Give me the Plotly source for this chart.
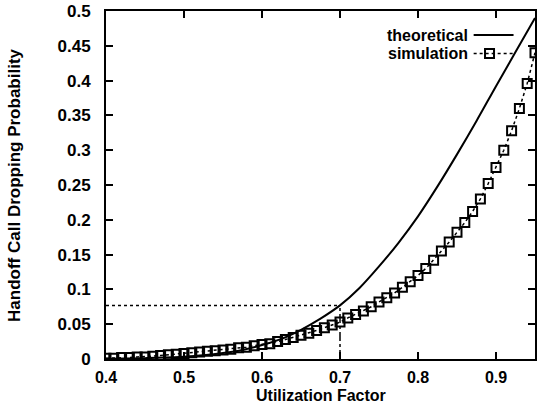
import plotly.graph_objects as go

# ---- data ----
theory_x = [0.400, 0.425, 0.450, 0.475, 0.500, 0.525, 0.550, 0.575, 0.600, 0.625,
            0.650, 0.675, 0.700, 0.725, 0.750, 0.775, 0.800, 0.825, 0.850, 0.875,
            0.900, 0.925, 0.950]
theory_y = [0.0003, 0.0006, 0.0012, 0.002, 0.0033, 0.0053, 0.0085, 0.013, 0.020, 0.029,
            0.042, 0.058, 0.077, 0.102, 0.133, 0.167, 0.205, 0.248, 0.294, 0.342,
            0.392, 0.441, 0.490]

sim_x = [round(0.40 + 0.01 * i, 2) for i in range(56)]
sim_y = [0.001, 0.001, 0.002, 0.002, 0.003, 0.003, 0.004, 0.005, 0.006, 0.007,
         0.008, 0.009, 0.010, 0.011, 0.012, 0.013, 0.014, 0.016, 0.017, 0.019,
         0.021, 0.022, 0.025, 0.028, 0.031, 0.034, 0.037, 0.041, 0.045, 0.049,
         0.053, 0.059, 0.064, 0.069, 0.075, 0.082, 0.088, 0.095, 0.103, 0.111,
         0.120, 0.130, 0.142, 0.155, 0.168, 0.182, 0.196, 0.212, 0.230, 0.252,
         0.275, 0.300, 0.328, 0.360, 0.396, 0.440]

ref_x = 0.7
ref_y = 0.077
x_start = 0.4

x_ticks = [0.4, 0.5, 0.6, 0.7, 0.8, 0.9]
y_ticks = [0, 0.05, 0.1, 0.15, 0.2, 0.25, 0.3, 0.35, 0.4, 0.45, 0.5]
y_ticklabels = ["0", "0.05", "0.1", "0.15", "0.2", "0.25", "0.3", "0.35", "0.4", "0.45", "0.5"]

FONT = "Liberation Sans"
font = dict(family=FONT, size=17, color="black", weight="bold")
xfont = dict(family=FONT, size=16, color="black", weight="bold")
key_font = dict(family=FONT, size=16, color="black", weight="bold")

fig = go.Figure()

# reference dotted lines
fig.add_trace(go.Scatter(x=[x_start, ref_x], y=[ref_y, ref_y], mode="lines",
                         line=dict(color="black", width=1.5, dash="dot"),
                         showlegend=False, hoverinfo="skip"))
fig.add_trace(go.Scatter(x=[ref_x, ref_x], y=[0, ref_y], mode="lines",
                         line=dict(color="black", width=1.5, dash="dashdot"),
                         showlegend=False, hoverinfo="skip"))

fig.add_trace(go.Scatter(x=theory_x, y=theory_y, mode="lines", line_shape="spline",
                         line=dict(color="black", width=2), name="theoretical",
                         showlegend=False))
fig.add_trace(go.Scatter(x=sim_x, y=sim_y, mode="lines+markers",
                         line=dict(color="black", width=1.5, dash="dot"),
                         marker=dict(symbol="square-open", size=9, color="black",
                                     line=dict(width=2, color="black")),
                         name="simulation", showlegend=False))

axis_common = dict(
    showline=True, linecolor="black", linewidth=2, mirror="allticks",
    ticks="inside", ticklen=7, tickwidth=2, tickcolor="black",
    showgrid=False, zeroline=False,
)

fig.update_xaxes(range=[0.4, 0.95], tickvals=x_ticks,
                 ticktext=[str(v) for v in x_ticks], tickfont=xfont,
                 ticklabelstandoff=3, **axis_common)
fig.update_yaxes(range=[0, 0.5], tickvals=y_ticks, ticktext=y_ticklabels, tickfont=font,
                 ticklabelstandoff=10, **axis_common)

# axis titles
fig.add_annotation(xref="paper", yref="paper", x=0.5, y=-0.106, text="Utilization Factor",
                   showarrow=False, xanchor="center", yanchor="middle", font=xfont)
fig.add_annotation(xref="paper", yref="paper", x=-0.2146, y=0.5,
                   text="Handoff Call Dropping Probability", textangle=-90,
                   showarrow=False, xanchor="center", yanchor="middle", font=font)

# manual gnuplot-style key
fig.add_annotation(xref="paper", yref="paper", x=0.848, y=0.931, text="theoretical",
                   showarrow=False, xanchor="right", yanchor="middle", font=key_font)
fig.add_annotation(xref="paper", yref="paper", x=0.848, y=0.878, text="simulation",
                   showarrow=False, xanchor="right", yanchor="middle", font=key_font)
fig.add_shape(type="line", xref="paper", yref="paper", x0=0.857, x1=0.950, y0=0.931, y1=0.931,
              line=dict(color="black", width=2))
fig.add_shape(type="line", xref="paper", yref="paper", x0=0.857, x1=0.950, y0=0.878, y1=0.878,
              line=dict(color="black", width=1.5, dash="dot"))
fig.add_shape(type="rect", xref="paper", yref="paper", xsizemode="pixel", ysizemode="pixel",
              xanchor=0.894, yanchor=0.878, x0=-4.5, x1=4.5, y0=-4.5, y1=4.5,
              line=dict(color="black", width=2), fillcolor="rgba(0,0,0,0)")

fig.update_layout(width=539, height=406, autosize=False,
                  margin=dict(l=106, r=2, t=10, b=47),
                  plot_bgcolor="white", paper_bgcolor="white",
                  font=font)

fig.write_html("out.html")
